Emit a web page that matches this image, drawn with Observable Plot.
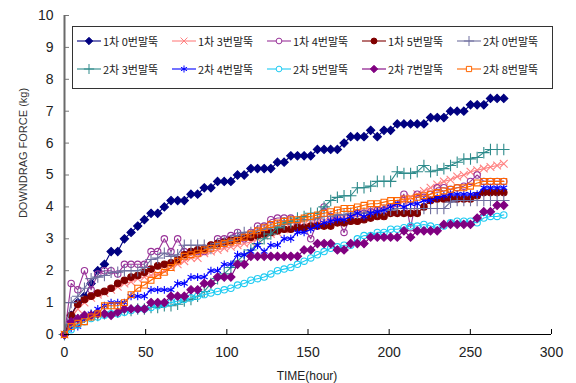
<!DOCTYPE html>
<html>
<head>
<meta charset="utf-8">
<script src="https://cdn.jsdelivr.net/npm/d3@7"></script>
<script src="https://cdn.jsdelivr.net/npm/@observablehq/plot@0.6"></script>
<style>
  html, body { margin: 0; padding: 0; background: #fff; }
  #chart { position: relative; width: 576px; height: 383px; font-family: "Liberation Sans", Arial, sans-serif; }
  #legend { position: absolute; left: 72px; top: 26px; width: 481px; height: 63px; border: 1px solid #333; background: #fff; box-sizing: border-box; }
  .item { position: absolute; height: 14px; display: flex; align-items: center; font-family: "Noto Sans CJK KR", sans-serif; font-size: 11px; color: #222; white-space: nowrap; }
  .item svg { margin-right: 2px; }
  #ylabel { position: absolute; left: 23px; top: 153px; transform: translate(-50%, -50%) rotate(-90deg); font-size: 11px; color: #333; white-space: nowrap; }
  #xlabel { position: absolute; left: 307px; top: 376px; transform: translate(-50%, -50%); font-size: 12px; color: #222; white-space: nowrap; }
</style>
</head>
<body>
<div id="chart"></div>
<script>
// Elapsed time of each reading (hours)
const hours = [0,4.1,8.2,12.3,16.4,20.5,24.6,28.7,32.8,36.9,41,45.1,49.2,53.3,57.4,61.5,65.6,69.7,73.8,77.9,82,86.1,90.2,94.3,98.4,102.5,106.6,110.7,114.8,118.9,123,127.1,131.2,135.3,139.4,143.5,147.6,151.7,155.8,159.9,164,168.1,172.2,176.3,180.4,184.5,188.6,192.7,196.8,200.9,205,209.1,213.2,217.3,221.4,225.5,229.6,233.7,237.8,241.9,246,250.1,254.2,258.3,262.4,266.5,270.6];

// Downdrag force (kg) per pile
const pile1_0 = [0,0.6,1.0,1.2,1.6,2.0,2.2,2.6,2.6,3.0, 3.2,3.4,3.6,3.8,3.8,4.0,4.2,4.2,4.2,4.4, 4.4,4.6,4.6,4.8,4.8,4.8,5.0,5.0,5.2,5.2, 5.2,5.2,5.4,5.4,5.6,5.6,5.6,5.6,5.8,5.8, 5.8,5.8,6.0,6.2,6.2,6.2,6.4,6.2,6.4,6.4, 6.6,6.6,6.6,6.6,6.6,6.8,6.8,6.8,7.0,7.0, 7.0,7.2,7.2,7.2,7.4,7.4,7.4];
const pile1_3 = [0,0.5,0.8,1.0,1.15,1.25,1.3,1.4,1.5,1.6, 1.65,1.75,1.8,1.85,1.9,2.0,2.1,2.2,2.3,2.4, 2.4,2.55,2.6,2.65,2.7,2.75,2.8,2.85,2.9,3.0, 3.1,3.15,3.2,3.3,3.35,3.4,3.45,3.5,3.5,3.55, 3.6,3.65,3.7,3.75,3.8,3.85,3.9,3.95,4.0,4.05, 4.1,4.2,4.3,4.4,4.5,4.6,4.7,4.8,4.85,4.95, 5.0,5.1,5.15,5.2,5.25,5.3,5.35];
const pile1_4 = [0,1.6,1.4,2.0,1.4,1.9,2.0,2.0,1.9,2.2, 2.2,2.2,2.2,2.6,2.6,3.0,2.6,3.0,2.6,2.6, 2.6,2.6,2.8,3.0,3.0,3.1,3.2,3.0,3.2,3.4, 3.4,3.6,3.65,3.65,3.65,3.4,3.35,3.0,3.55,4.0, 3.7,3.65,3.2,3.7,3.8,3.8,3.85,3.9,3.9,4.0, 4.1,4.4,3.35,4.4,4.3,4.4,4.6,4.6,4.55,4.6, 4.65,4.8,5.0,4.8,4.8,4.8,4.8];
const pile1_5 = [0,0.6,0.95,1.1,1.2,1.3,1.35,1.45,1.6,1.7, 1.8,1.85,1.95,2.05,2.15,2.2,2.25,2.35,2.5,2.6, 2.65,2.7,2.8,2.85,2.9,2.95,3.0,3.05,3.05,3.1, 3.15,3.2,3.25,3.3,3.3,3.35,3.35,3.4,3.4,3.4, 3.4,3.5,3.5,3.55,3.55,3.6,3.65,3.7,3.7,3.8, 3.8,3.8,3.8,3.8,4.0,4.2,4.25,4.25,4.25,4.25, 4.25,4.25,4.35,4.45,4.45,4.45,4.45];
const pile2_0 = [0,1.0,1.2,1.45,1.75,1.8,1.85,1.95,1.95,2.0, 2.0,2.0,2.1,2.35,2.4,2.55,2.45,2.5,2.8,2.8, 2.8,2.8,2.7,2.85,2.9,2.95,3.1,3.2,3.2,3.25, 3.3,3.35,3.4,3.45,3.5,3.55,3.6,3.6,3.65,3.7, 3.7,3.75,3.75,3.8,3.8,3.8,3.85,3.85,3.9,3.9, 3.95,3.95,3.95,3.95,3.95,3.95,3.95,3.95,4.15,4.2, 4.2,4.2,4.2,4.2,4.2,4.2,4.2];
const pile2_3 = [0,0.3,0.45,0.55,0.6,0.6,0.65,0.7,0.7,0.75, 0.75,0.8,0.8,0.85,0.85,0.9,0.9,0.95,1.05,1.1, 1.2,1.35,1.6,1.75,1.9,2.1,2.3,2.5,2.65,2.85, 3.0,3.15,3.35,3.5,3.55,3.65,3.7,3.8,3.8,4.0, 4.2,4.3,4.35,4.35,4.6,4.6,4.65,4.8,4.8,4.8, 5.1,5.05,5.05,5.1,5.3,5.1,5.15,5.2,5.3,5.4, 5.5,5.5,5.55,5.7,5.8,5.8,5.8];
const pile2_4 = [0,0.2,0.25,0.5,0.65,0.8,0.9,1.0,1.0,1.0, 1.2,1.2,1.2,1.4,1.4,1.4,1.4,1.6,1.6,1.8, 1.8,1.8,2.0,2.0,2.2,2.2,2.5,2.5,2.6,2.8, 2.6,2.8,2.8,3.0,3.0,3.2,3.2,3.3,3.4,3.5, 3.55,3.6,3.6,3.7,3.8,3.7,3.8,3.85,3.9,4.0, 4.1,4.0,4.1,4.1,4.2,4.2,4.3,4.35,4.4,4.4, 4.4,4.4,4.4,4.6,4.6,4.6,4.6];
const pile2_5 = [0,0.15,0.3,0.4,0.5,0.55,0.6,0.65,0.65,0.7, 0.75,0.8,0.8,0.85,0.9,0.95,1.0,1.05,1.1,1.15, 1.2,1.25,1.3,1.35,1.4,1.45,1.55,1.6,1.7,1.75, 1.8,1.9,2.0,2.05,2.1,2.2,2.3,2.4,2.5,2.6, 2.7,2.75,2.8,2.8,3.0,3.1,3.1,3.2,3.2,3.3, 3.3,3.35,3.4,3.4,3.45,3.4,3.35,3.4,3.5,3.55, 3.55,3.55,3.5,3.65,3.7,3.7,3.75];
const pile2_7 = [0,0.4,0.5,0.6,0.6,0.65,0.65,0.6,0.7,0.8, 0.8,0.8,0.8,1.0,1.0,1.0,1.2,1.2,1.2,1.4, 1.4,1.6,1.6,1.8,1.8,1.8,2.2,2.2,2.45,2.45, 2.45,2.45,2.45,2.45,2.45,2.45,2.65,2.65,2.85,2.85, 2.85,2.65,2.65,2.85,2.85,2.85,3.05,3.05,3.05,3.05, 3.05,3.25,3.05,3.25,3.25,3.25,3.25,3.45,3.45,3.45, 3.45,3.45,3.65,3.85,3.85,4.05,4.05];
const pile2_8 = [0,0.25,0.35,0.4,0.55,0.65,0.9,0.9,0.9,1.0, 1.25,1.45,1.55,1.7,1.85,1.95,2.1,2.3,2.45,2.5, 2.55,2.65,2.7,2.8,2.85,2.9,2.95,3.05,3.15,3.25, 3.35,3.45,3.5,3.55,3.6,3.6,3.65,3.7,3.75,3.8, 3.85,3.9,3.95,3.95,4.0,4.05,4.1,4.1,4.15,4.2, 4.2,4.25,4.25,4.3,4.35,4.4,4.45,4.5,4.55,4.6, 4.6,4.65,4.75,4.8,4.8,4.8,4.8];

const seriesNames = ["1차 0번말뚝","1차 3번말뚝","1차 4번말뚝","1차 5번말뚝","2차 0번말뚝","2차 3번말뚝","2차 4번말뚝","2차 5번말뚝","2차 7번말뚝","2차 8번말뚝"];
const seriesValues = [pile1_0, pile1_3, pile1_4, pile1_5, pile2_0, pile2_3, pile2_4, pile2_5, pile2_7, pile2_8];

const xTicks = [0, 50, 100, 150, 200, 250, 300];
const yTicks = [0, 1, 2, 3, 4, 5, 6, 7, 8, 9, 10];

// Line colour and marker for each pile
const seriesStyles = [
  {color: "#000080", symbol: "diamond2", filled: true,  r: 3.7},
  {color: "#ff8080", symbol: "times",    filled: false, r: 3.6},
  {color: "#993399", symbol: "circle",   filled: false, r: 3.2},
  {color: "#800000", symbol: "circle",   filled: true,  r: 3.3},
  {color: "#6f6f9f", symbol: "plus",     filled: false, r: 3.8},
  {color: "#2e8b8b", symbol: "plus",     filled: false, r: 3.8},
  {color: "#0000ff", symbol: "asterisk", filled: false, r: 3.7},
  {color: "#1ecbf2", symbol: "circle",   filled: false, r: 3.2},
  {color: "#800080", symbol: "diamond2", filled: true,  r: 3.7},
  {color: "#ff6600", symbol: "square",   filled: false, r: 3.3}
];

const table = seriesNames.flatMap((name, k) =>
  seriesValues[k].map((v, i) => ({series: name, hour: hours[i], value: v}))
);

const seriesMarks = seriesNames.flatMap((name, k) => {
  const rows = table.filter(d => d.series === name);
  const st = seriesStyles[k];
  return [
    Plot.line(rows, {x: "hour", y: "value", stroke: st.color, strokeWidth: 1.1}),
    Plot.dot(rows, {x: "hour", y: "value", symbol: st.symbol, r: st.r,
      stroke: st.color, fill: st.filled ? st.color : "none", strokeWidth: 1.1})
  ];
});

const plot = Plot.plot({
  width: 576,
  height: 383,
  marginLeft: 64,
  marginRight: 25,
  marginTop: 15,
  marginBottom: 49,
  x: {domain: [0, 300]},
  y: {domain: [0, 10]},
  style: {fontFamily: "'Liberation Sans', Arial, sans-serif", fontSize: "14px", color: "#222", background: "#fff", overflow: "visible"},
  marks: [
    Plot.axisX({ticks: xTicks, tickSize: -5, tickPadding: 18, label: null, stroke: "#000", fill: "#222"}),
    Plot.axisY({ticks: yTicks, tickSize: -5, tickPadding: 16, label: null, stroke: "#777", fill: "#222"}),
    ...seriesMarks,
    Plot.ruleX([0], {stroke: "#6a6a6a", strokeWidth: 2}),
    Plot.ruleY([0], {stroke: "#000", strokeWidth: 1.2})
  ]
});

const chart = document.getElementById("chart");
chart.appendChild(plot);

// Legend: two rows of five entries, each a short line with its marker
const legend = document.createElement("div");
legend.id = "legend";
chart.appendChild(legend);
const d3Symbols = {diamond2: d3.symbolDiamond2, times: d3.symbolTimes, circle: d3.symbolCircle, plus: d3.symbolPlus, asterisk: d3.symbolAsterisk, square: d3.symbolSquare};
seriesNames.forEach((name, k) => {
  const st = seriesStyles[k];
  const item = document.createElement("div");
  item.className = "item";
  item.style.left = (4 + 95 * (k % 5)) + "px";
  item.style.top = (k < 5 ? 7 : 35) + "px";
  const svg = d3.create("svg").attr("width", 24).attr("height", 10);
  svg.append("line").attr("x1", 0).attr("x2", 24).attr("y1", 5).attr("y2", 5).attr("stroke", st.color).attr("stroke-width", 1.1);
  svg.append("path")
    .attr("transform", "translate(12,5)")
    .attr("d", d3.symbol(d3Symbols[st.symbol], Math.PI * st.r * st.r * 0.8)())
    .attr("stroke", st.color)
    .attr("fill", st.filled ? st.color : "#fff")
    .attr("stroke-width", 1);
  item.appendChild(svg.node());
  const span = document.createElement("span");
  span.textContent = name;
  item.appendChild(span);
  legend.appendChild(item);
});

const ylabel = document.createElement("div");
ylabel.id = "ylabel";
ylabel.textContent = "DOWNDRAG FORCE (kg)";
chart.appendChild(ylabel);

const xlabel = document.createElement("div");
xlabel.id = "xlabel";
xlabel.textContent = "TIME(hour)";
chart.appendChild(xlabel);
</script>
</body>
</html>
